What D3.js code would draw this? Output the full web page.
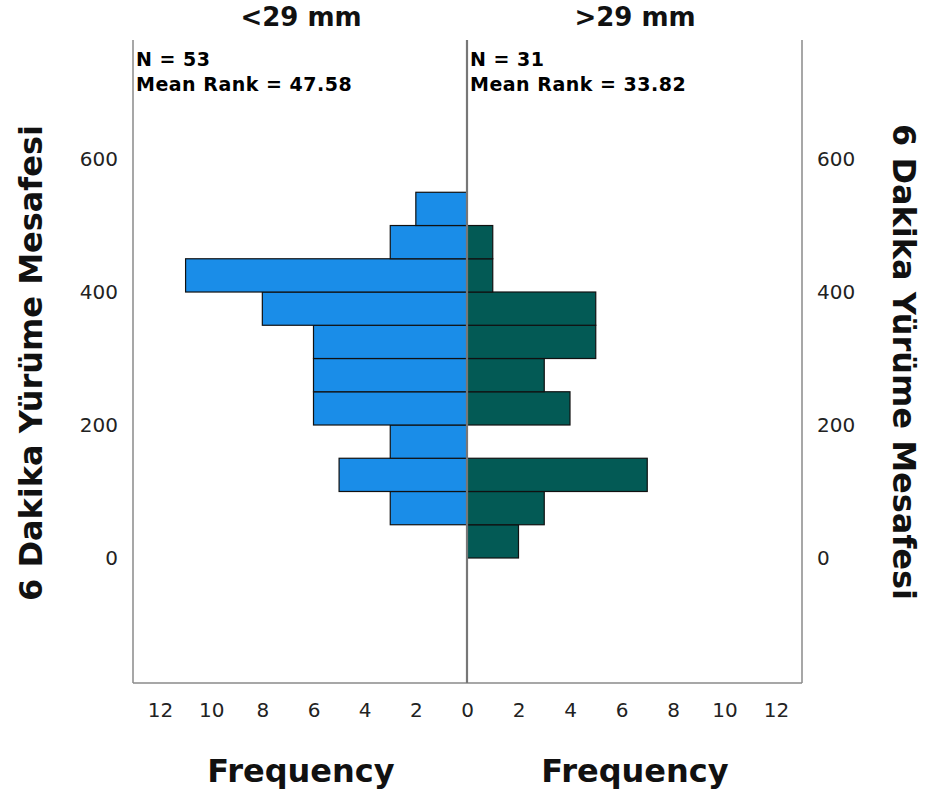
<!DOCTYPE html>
<html><head><meta charset="utf-8">
<script src="https://cdn.jsdelivr.net/npm/d3@7"></script>
<style>body{margin:0;background:#fff}svg{display:block}text{font-family:"DejaVu Sans",sans-serif}</style>
</head><body><svg id="c" width="931" height="798"></svg>
<script>
// bins of 6 Dakika Yürüme Mesafesi (lower edge, width 50)
const binStarts = [0, 50, 100, 150, 200, 250, 300, 350, 400, 450, 500];
const binWidth = 50;
const groups = ["<29 mm", ">29 mm"];
const countsLow = [0, 3, 5, 3, 6, 6, 6, 8, 11, 3, 2];   // <29 mm
const countsHigh = [2, 3, 7, 0, 4, 3, 5, 5, 1, 1, 0];  // >29 mm
const nValues = [53, 31];
const meanRanks = ["47.58", "33.82"];
const yTicks = [0, 200, 400, 600];
const xTicks = [0, 2, 4, 6, 8, 10, 12];
const colors = ["#1a8de8", "#035a55"];

(function () {
const svg = d3.select("#c");
const pLeft = 133, pMid = 467, pRight = 802, pTop = 40, pBottom = 683;
const y = d3.scaleLinear().domain([-188, 779]).range([pBottom, pTop]);
const xL = d3.scaleLinear().domain([0, 12]).range([pMid, 160]);
const xR = d3.scaleLinear().domain([0, 12]).range([pMid, 776]);

function bars(counts, x, col) {
  svg.append("g").selectAll("rect").data(binStarts.map((b, i) => ({b, c: counts[i]})).filter(d => d.c > 0))
    .join("rect")
    .attr("x", d => Math.min(x(0), x(d.c)))
    .attr("width", d => Math.abs(x(d.c) - x(0)))
    .attr("y", d => y(d.b + binWidth))
    .attr("height", d => y(d.b) - y(d.b + binWidth))
    .attr("fill", col).attr("stroke", "#111").attr("stroke-width", 1.2);
}
bars(countsLow, xL, colors[0]);
bars(countsHigh, xR, colors[1]);

const fr = svg.append("g").attr("stroke", "#8a8a8a").attr("stroke-width", 1.5).attr("fill", "none");
fr.append("line").attr("x1", pLeft).attr("x2", pLeft).attr("y1", pTop).attr("y2", pBottom);
fr.append("line").attr("x1", pRight).attr("x2", pRight).attr("y1", pTop).attr("y2", pBottom);
fr.append("line").attr("x1", pLeft).attr("x2", pRight).attr("y1", pBottom).attr("y2", pBottom);
svg.append("line").attr("x1", pMid).attr("x2", pMid).attr("y1", pTop).attr("y2", pBottom)
  .attr("stroke", "#777").attr("stroke-width", 2.2);

const axL = svg.append("g").attr("transform", `translate(${pLeft},0)`)
  .call(d3.axisLeft(y).tickValues(yTicks).tickSize(0).tickPadding(15));
const axR = svg.append("g").attr("transform", `translate(${pRight},0)`)
  .call(d3.axisRight(y).tickValues(yTicks).tickSize(0).tickPadding(15));
const axBL = svg.append("g").attr("transform", `translate(0,${pBottom})`)
  .call(d3.axisBottom(xL).tickValues(xTicks).tickSize(0).tickPadding(20));
const axBR = svg.append("g").attr("transform", `translate(0,${pBottom})`)
  .call(d3.axisBottom(xR).tickValues(xTicks.filter(v => v > 0)).tickSize(0).tickPadding(20));
[axL, axR, axBL, axBR].forEach(a => {
  a.select(".domain").remove();
  a.selectAll("text").attr("font-size", 20).attr("fill", "#222").style("font-family", "'DejaVu Sans',sans-serif");
});

svg.append("text").attr("x", 301).attr("y", 26).attr("text-anchor", "middle")
  .attr("font-size", 26).attr("font-weight", "bold").attr("fill", "#111").text(groups[0]);
svg.append("text").attr("x", 635).attr("y", 26).attr("text-anchor", "middle")
  .attr("font-size", 26).attr("font-weight", "bold").attr("fill", "#111").text(groups[1]);

[[pLeft, 0], [pMid, 1]].forEach(([x0, i]) => {
  const t = svg.append("text").attr("font-size", 19).attr("font-weight", "bold").attr("fill", "#000")
    .attr("letter-spacing", 0.5);
  t.append("tspan").attr("x", x0 + 3).attr("y", 66).text(`N = ${nValues[i]}`);
  t.append("tspan").attr("x", x0 + 3).attr("y", 91).text(`Mean Rank = ${meanRanks[i]}`);
});

svg.append("text").attr("x", 301).attr("y", 782).attr("text-anchor", "middle")
  .attr("font-size", 32).attr("font-weight", "bold").attr("fill", "#111").text("Frequency");
svg.append("text").attr("x", 635).attr("y", 782).attr("text-anchor", "middle")
  .attr("font-size", 32).attr("font-weight", "bold").attr("fill", "#111").text("Frequency");

svg.append("text").attr("transform", "translate(42,363) rotate(-90)").attr("text-anchor", "middle")
  .attr("font-size", 32).attr("font-weight", "bold").attr("fill", "#111").text("6 Dakika Yürüme Mesafesi");
svg.append("text").attr("transform", "translate(893,362) rotate(90)").attr("text-anchor", "middle")
  .attr("font-size", 32).attr("font-weight", "bold").attr("fill", "#111").text("6 Dakika Yürüme Mesafesi");
})();
</script></body></html>
